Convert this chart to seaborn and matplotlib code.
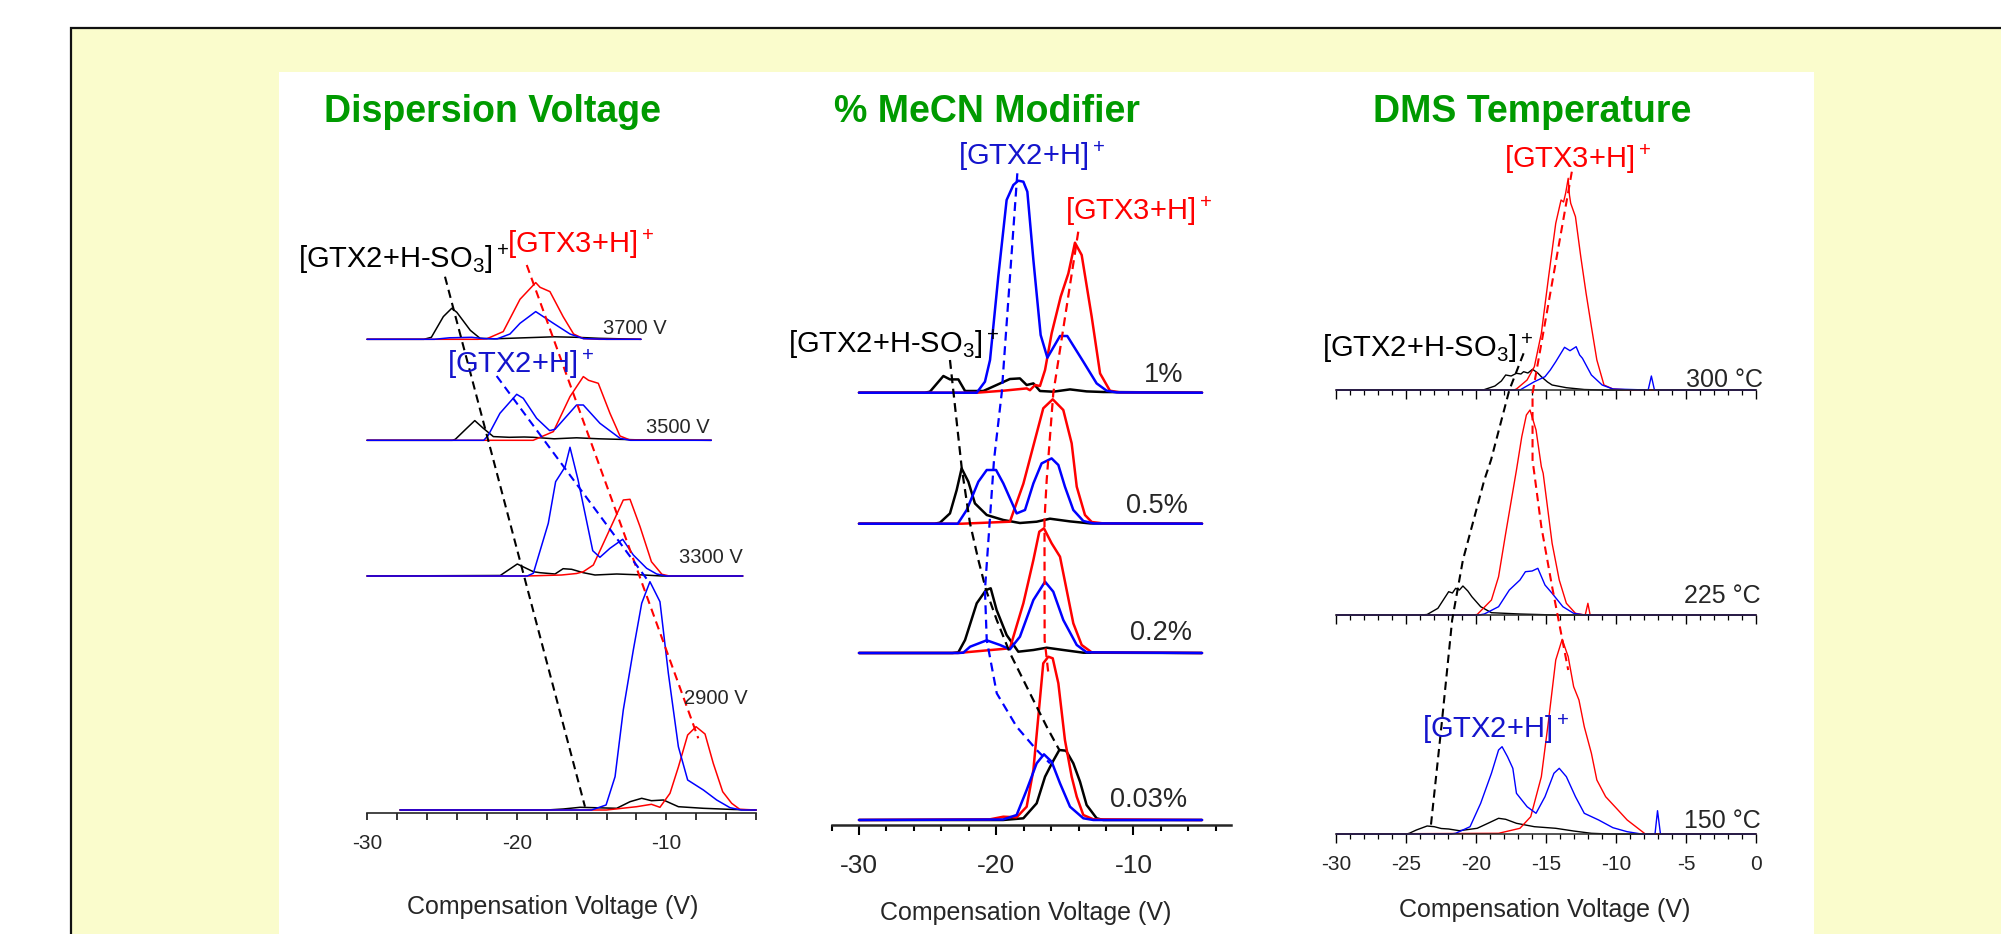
import matplotlib
matplotlib.use("Agg")
import matplotlib.pyplot as plt
from matplotlib.patches import Rectangle
import pandas as pd
import seaborn as sns

# ------------------------------------------------------------------ data
# intensities are arbitrary units; (CV [V], intensity)

# ---- Panel 1 : Dispersion Voltage
DV_CONDITIONS = ["3700 V", "3500 V", "3300 V", "2900 V"]
DV_OFFSETS = [473.4, 372.4, 236.7, 2.7]

DV3700_SO3 = [(-30, 0), (-26.2, 0), (-25.7, 2), (-24.9, 22.7), (-24.34, 31), (-24.0, 27),
              (-23.1, 9), (-22.45, 1), (-21.5, 0.5), (-19.5, 1.5), (-17.5, 2.5), (-16, 2),
              (-14.5, 1), (-11.7, 0)]
DV3700_GTX3 = [(-30, 0), (-22.6, 0), (-22.0, 0.5), (-20.9, 7.7), (-19.78, 40), (-18.73, 56.7),
               (-18.44, 52), (-17.78, 47.7), (-16.9, 22.7), (-16.2, 5.3), (-15.55, 0.7),
               (-14.5, 0), (-11.7, 0)]
DV3700_GTX2 = [(-30, 0), (-25.5, 0), (-24.5, 1.5), (-23, 2), (-22.2, 0.7), (-21.3, 0.5),
               (-20.45, 5.3), (-19.78, 16), (-18.73, 27.7), (-17.55, 16), (-16.44, 5.3),
               (-15.55, 0.7), (-14, 0), (-11.7, 0)]

DV3500_SO3 = [(-30, 0), (-24.3, 0), (-24.1, 1), (-23.34, 12), (-22.8, 19.7), (-22.23, 12),
              (-21.56, 3.7), (-20.5, 3), (-19.5, 3.3), (-18.9, 3), (-17.5, 1.5), (-16, 2.5),
              (-14.5, 1.5), (-12, 0.5), (-7, 0)]
DV3500_GTX3 = [(-30, 0), (-18.9, 0), (-17.55, 8.7), (-16.44, 43.7), (-15.55, 63.7), (-15.2, 60),
               (-14.55, 57), (-13.77, 27), (-13.1, 4.3), (-12.43, 0.3), (-7, 0)]
DV3500_GTX2 = [(-30, 0), (-22.2, 0), (-21.9, 5), (-21.12, 27), (-20.0, 46), (-19.56, 42),
               (-18.67, 22), (-17.8, 9.7), (-17.44, 11), (-16.0, 35.3), (-15.55, 35.3),
               (-14.44, 17), (-13.1, 2), (-12.4, 0), (-7, 0)]

DV3300_SO3 = [(-30, 0), (-21.1, 0.5), (-19.96, 12), (-18.89, 4.3), (-18.44, 3.3), (-17.44, 2),
              (-16.9, 7.3), (-16.33, 6.7), (-15.55, 3.3), (-14.77, 1), (-13.32, 2), (-11.5, 1),
              (-10.3, 0), (-4.9, 0)]
DV3300_GTX3 = [(-30, 0), (-19.33, 0), (-17, 1), (-16, 2.5), (-15.55, 4.3), (-14.88, 11),
               (-14.21, 32.7), (-12.88, 76), (-12.43, 76.7), (-11.76, 49.3), (-11.0, 14.3),
               (-10.3, 1.7), (-9.8, 0), (-4.9, 0)]
DV3300_GTX2 = [(-30, 0), (-19.3, 0), (-18.89, 2.7), (-17.89, 52.7), (-17.4, 94.3), (-16.77, 109),
               (-16.44, 128.7), (-15.9, 96), (-14.92, 25.3), (-14.44, 18.7), (-13.77, 27.7),
               (-12.92, 36.7), (-12.21, 21), (-11.32, 7.7), (-10.65, 2), (-10, 0), (-4.9, 0)]

DV2900_SO3 = [(-27.8, 0), (-18, 0), (-16.89, 1), (-15.77, 2.7), (-13.32, 1.7), (-12.43, 8.3),
              (-11.65, 11.7), (-11.0, 9.3), (-10.2, 10), (-9.2, 3.3), (-7.53, 1.7), (-5.5, 0.5),
              (-4.0, 0)]
DV2900_GTX3 = [(-27.8, 0), (-14, 0), (-11.99, 3.3), (-11.0, 5.7), (-10.43, 2.7), (-9.76, 16.7),
               (-9.2, 43), (-8.58, 75), (-8.02, 83.3), (-7.42, 76), (-6.87, 46.7), (-6.24, 18.3),
               (-5.64, 6.7), (-5.1, 0.7), (-4.0, 0)]
DV2900_GTX2 = [(-27.8, 0), (-15, 0), (-14.03, 5), (-13.43, 33.3), (-12.88, 100), (-12.21, 160),
               (-11.65, 206.7), (-11.1, 228.3), (-10.43, 208.3), (-9.87, 136.7), (-9.2, 63.3),
               (-8.58, 30), (-7.53, 20), (-6.64, 10), (-5.75, 2.3), (-5.0, 0), (-4.0, 0)]

DV_GUIDE_SO3 = [(-24.79, 536.0), (-15.44, 6.0)]
DV_GUIDE_GTX3 = [(-19.33, 547.7), (-7.87, 74.4)]
DV_GUIDE_GTX2 = [(-21.34, 436.7), (-11.1, 229.4)]
DV_TICKS = [-30, -20, -10]
DV_TICK_LABELS = ["-30", "-20", "-10"]

# ---- Panel 2 : % MeCN Modifier
MC_CONDITIONS = ["1%", "0.5%", "0.2%", "0.03%"]
MC_OFFSETS = [432.3, 301.3, 172.0, 5.0]

MC1_SO3 = [(-30, 0), (-25.2, 0), (-24.83, 1), (-23.85, 16.7), (-23.37, 13.3), (-22.76, 13.3),
           (-22.27, 1.7), (-20.94, 1.7), (-19.97, 7.7), (-19.0, 13.7), (-18.27, 14.3),
           (-17.78, 7.7), (-17.29, 9.3), (-16.81, 1.7), (-15.84, 1), (-14.62, 3.3),
           (-13.41, 1.3), (-12.2, 0.7), (-5, 0)]
MC1_GTX3 = [(-30, 0), (-21.42, 0), (-19.48, 2), (-17.78, 4.3), (-17.54, 2.5), (-17.17, 7.7),
            (-16.81, 6.7), (-16.44, 22.7), (-15.96, 59.3), (-15.3, 96), (-14.74, 119.3),
            (-14.26, 150), (-13.77, 137.7), (-13.04, 76), (-12.43, 19.3), (-11.71, 2),
            (-10.98, 0.3), (-5, 0)]
MC1_GTX2 = [(-30, 0), (-21.42, 0), (-20.82, 11), (-20.45, 32.7), (-19.85, 116), (-19.24, 192.7),
            (-18.75, 207.7), (-18.39, 212), (-18.02, 211), (-17.73, 201), (-17.29, 132.7),
            (-16.76, 57.7), (-16.27, 35), (-15.35, 56.7), (-14.82, 56.7), (-13.65, 31),
            (-12.68, 9.3), (-11.95, 2), (-11.22, 0.3), (-5, 0)]

MC05_SO3 = [(-30, 0), (-24.5, 0), (-24.1, 1), (-23.37, 10.3), (-22.88, 33.7), (-22.52, 55.3),
            (-22.03, 42), (-21.55, 20.3), (-20.69, 8.7), (-19.48, 3.7), (-18.27, 0.7),
            (-17.05, 2), (-16.08, 5), (-14.62, 2.3), (-13.16, 0.3), (-5, 0)]
MC05_GTX3 = [(-30, 0), (-22.5, 0), (-19.0, 2), (-18.02, 40), (-17.05, 90.4), (-16.57, 115.4),
             (-15.88, 124.4), (-15.11, 113.7), (-14.5, 80.4), (-14.13, 37), (-13.53, 8.7),
             (-13.04, 1.7), (-12.2, 0.3), (-5, 0)]
MC05_GTX2 = [(-30, 0), (-22.8, 0), (-22.15, 13.7), (-21.3, 42), (-20.69, 53.7), (-20.01, 53.7),
             (-19.48, 40.3), (-18.51, 10.3), (-17.9, 13.7), (-17.29, 40.3), (-16.69, 60.3),
             (-15.96, 65.3), (-15.47, 58.7), (-14.99, 37), (-14.38, 13.7), (-13.65, 2.7),
             (-12.92, 0.3), (-5, 0)]

MC02_SO3 = [(-30, 0), (-23.2, 0), (-22.76, 0.7), (-22.27, 13), (-21.42, 49.7), (-20.74, 63),
            (-20.4, 64.7), (-19.97, 43), (-19.24, 18), (-18.39, 1.3), (-17.29, 3), (-16.32, 5.3),
            (-15.11, 3), (-13.65, 0.3), (-5, 0)]
MC02_GTX3 = [(-30, 0), (-22.8, 0), (-19.0, 4.7), (-18.02, 49.7), (-17.29, 93), (-16.86, 121.3),
             (-16.52, 124.7), (-15.96, 109.7), (-15.35, 96.3), (-14.38, 29.7), (-13.77, 8),
             (-13.04, 0.7), (-5, 0)]
MC02_GTX2 = [(-30, 0), (-22.8, 0), (-22.4, 0.3), (-21.9, 6.3), (-20.69, 12.7), (-19.72, 8),
             (-19.0, 3.7), (-18.27, 16.3), (-17.29, 53), (-16.44, 71.3), (-15.84, 61.3),
             (-15.11, 33), (-14.13, 8), (-13.41, 0.7), (-5, 0)]

MC003_SO3 = [(-30, 0), (-19.5, 0), (-18.02, 1.7), (-17.05, 16.7), (-16.44, 43.3), (-15.88, 58.3),
             (-15.4, 70), (-14.91, 69.3), (-14.38, 56.7), (-13.89, 38.3), (-13.41, 15),
             (-12.68, 1.7), (-12.2, 0), (-5, 0)]
MC003_GTX3 = [(-30, 0), (-20.45, 0.7), (-19.48, 3.3), (-18.51, 2.7), (-17.78, 13.3), (-17.29, 50),
              (-16.93, 103.3), (-16.57, 156.7), (-16.2, 163.3), (-15.88, 161.7), (-15.47, 136.7),
              (-14.99, 80), (-14.5, 43.3), (-14.13, 23.3), (-13.65, 5), (-12.92, 0.7), (-5, 0)]
MC003_GTX2 = [(-30, 0), (-19.5, 0.5), (-18.51, 5), (-17.78, 30), (-17.05, 56.7), (-16.52, 65.7),
              (-15.96, 58.3), (-15.35, 36.7), (-14.62, 13.3), (-13.65, 1.7), (-12.92, 0), (-5, 0)]

MC_GUIDE_SO3 = [(-23.37, 465), (-22.51, 356.7), (-21.91, 301.7), (-21.3, 265), (-20.74, 235),
                (-19.96, 205), (-18.99, 171.7), (-17.54, 131.7), (-16.32, 98.3), (-15.4, 75)]
MC_GUIDE_GTX3 = [(-14.02, 593.3), (-15.84, 431.7), (-16.32, 345), (-16.48, 305), (-16.47, 185),
                 (-16.2, 151.7)]
MC_GUIDE_GTX2 = [(-18.46, 651.7), (-19.6, 431.7), (-20.16, 365), (-20.82, 235), (-20.69, 185),
                 (-19.96, 131.7), (-18.51, 98.3), (-17.05, 75), (-16.08, 61.7)]
MC_TICKS = [-30, -20, -10]
MC_TICK_LABELS = ["-30", "-20", "-10"]

# ---- Panel 3 : DMS Temperature
TP_CONDITIONS = ["300 °C", "225 °C", "150 °C"]
TP_OFFSETS = [444.0, 219.0, 0.0]

TP300_SO3 = [(-30, 0), (-19.5, 0), (-18.66, 4), (-18.2, 9), (-17.89, 15), (-17.5, 14),
             (-17.12, 16.7), (-16.8, 16), (-16.61, 18.3), (-16.3, 17), (-15.97, 20.7), (-15.6, 17),
             (-15.34, 13.3), (-14.9, 8), (-14.57, 5), (-13.55, 2.3), (-12.27, 0.5), (-11, 0), (0, 0)]
TP300_GTX3 = [(-30, 0), (-17.3, 0), (-17.12, 1), (-16.36, 10), (-15.84, 23.3), (-15.34, 56.7),
              (-14.82, 113.3), (-14.31, 166.7), (-13.93, 190), (-13.75, 188), (-13.6, 197),
              (-13.5, 205), (-13.42, 211.7), (-13.33, 195), (-13.24, 186.7), (-12.9, 173.3),
              (-12.52, 133.3), (-12.14, 96.7), (-11.76, 63.3), (-11.37, 30), (-10.86, 5),
              (-10.22, 1), (-9, 0), (0, 0)]
TP300_GTX2 = [(-30, 0), (-16.87, 0), (-15.84, 8.3), (-15.08, 13.3), (-14.7, 20), (-14.31, 28.3),
              (-13.68, 42.7), (-13.29, 39.3), (-12.85, 43.3), (-12.6, 35), (-12.4, 31.7),
              (-11.76, 15), (-10.99, 5), (-10.22, 1), (-7.7, 0), (-7.47, 14), (-7.25, 0), (0, 0)]

TP225_SO3 = [(-30, 0), (-24, 0), (-23.51, 0.5), (-22.74, 6.7), (-21.97, 23.3), (-21.7, 22),
             (-21.47, 26.7), (-21.2, 25), (-20.95, 29), (-20.6, 24), (-20.31, 18.3), (-19.68, 8.3),
             (-18.91, 2.3), (-16.87, 1), (-14.31, 0), (0, 0)]
TP225_GTX3 = [(-30, 0), (-20.3, 0), (-19.93, 0.5), (-18.91, 15), (-18.4, 38.3), (-17.89, 81.7),
              (-17.12, 145), (-16.74, 178.3), (-16.41, 200), (-16.15, 205), (-15.72, 185),
              (-15.34, 148.3), (-15.21, 141.7), (-14.57, 71.7), (-14.06, 35), (-13.55, 11.7),
              (-12.9, 1.7), (-12.2, 0), (-12.01, 11.7), (-11.85, 0), (0, 0)]
TP225_GTX2 = [(-30, 0), (-19.8, 0), (-19.42, 1), (-18.4, 8.3), (-17.63, 25), (-16.87, 35),
              (-16.48, 43.3), (-16.0, 44), (-15.59, 46.7), (-15.08, 30), (-14.57, 21.7),
              (-13.8, 8.3), (-13.03, 1.7), (-12.27, 0), (0, 0)]

TP150_SO3 = [(-30, 0), (-25, 0), (-24.79, 0.7), (-24.28, 4), (-23.51, 8), (-23.0, 7.3),
             (-22.5, 5.5), (-21.97, 5), (-21.21, 3.3), (-19.93, 5.7), (-19.16, 10.7), (-18.4, 15.7),
             (-17.89, 14.7), (-17.12, 10.7), (-15.84, 7.3), (-14.31, 5.7), (-13.03, 3),
             (-11.76, 0.7), (-10.48, 0), (0, 0)]
TP150_GTX3 = [(-30, 0), (-18.4, 0.7), (-16.87, 5.7), (-16.1, 17.3), (-15.34, 57.3), (-14.82, 114),
              (-14.31, 174), (-13.85, 194.7), (-13.42, 177.3), (-13.03, 147.3), (-12.65, 134),
              (-12.27, 107.3), (-11.76, 80.7), (-11.37, 54), (-10.74, 37.3), (-9.97, 25.7),
              (-9.2, 14), (-8.43, 5.7), (-7.93, 0.3), (0, 0)]
TP150_GTX2 = [(-30, 0), (-21.8, 0), (-21.47, 0.7), (-20.44, 7.3), (-19.68, 30.7), (-18.91, 60.7),
              (-18.4, 84), (-18.15, 87.3), (-17.76, 77.3), (-17.38, 65.7), (-17.12, 40.7),
              (-16.36, 27.3), (-15.72, 20.7), (-15.08, 37.3), (-14.44, 60.7), (-14.06, 65.7),
              (-13.55, 57.3), (-12.9, 37.3), (-12.27, 20.7), (-11.24, 14), (-10.22, 6.3),
              (-9.2, 2.3), (-8.18, 0), (-7.21, 0), (-7.03, 23.3), (-6.82, 0), (0, 0)]

TP_GUIDE_SO3 = [(-16.61, 480.7), (-17.63, 444), (-18.94, 374), (-19.42, 354), (-20.95, 274),
                (-21.72, 214), (-22.49, 107.3), (-23.25, 7.3)]
TP_GUIDE_GTX3 = [(-13.16, 662.3), (-15.97, 440.7), (-15.97, 374), (-15.34, 307.3),
                 (-14.57, 247.3), (-13.42, 164)]
TP_TICKS = [-30, -25, -20, -15, -10, -5, 0]
TP_TICK_LABELS = ["-30", "-25", "-20", "-15", "-10", "-5", "0"]

ION_ORDER = ["SO3", "GTX3", "GTX2"]
ION_COLORS = {"SO3": "#000000", "GTX3": "#FF0000", "GTX2": "#0000FF"}
TEXT_COLORS = {"SO3": "#000000", "GTX3": "#FF0000", "GTX2": "#1414CC"}
ION_LABELS = {"SO3": "[GTX2+H-SO$_3]^+$", "GTX3": "[GTX3+H$]^+$", "GTX2": "[GTX2+H$]^+$"}
TITLE_COLOR = "#009A00"

# ------------------------------------------------------------------ style
sns.set_style("white")
plt.rcParams["font.family"] = ["Liberation Sans", "DejaVu Sans"]
plt.rcParams["mathtext.fontset"] = "custom"
plt.rcParams["mathtext.rm"] = "Liberation Sans"
plt.rcParams["mathtext.default"] = "regular"

W, H = 2001, 934
fig = plt.figure(figsize=(W / 100, H / 100), dpi=100, facecolor="white")


def fx(x):
    return x / W


def fy(y):
    return 1 - y / H


# backgrounds
fig.add_artist(Rectangle((fx(71), fy(950)), fx(2010) - fx(71), fy(28) - fy(950),
                         transform=fig.transFigure, facecolor="#FAFCCC",
                         edgecolor="#111111", linewidth=1.6, zorder=-20))
fig.add_artist(Rectangle((fx(279), fy(950)), fx(1814) - fx(279), fy(72) - fy(950),
                         transform=fig.transFigure, facecolor="white",
                         edgecolor="none", zorder=-19))


def make_axes(rect_px, px0, cv0, px_per_cv, base_px):
    l, t, r, b = rect_px
    ax = fig.add_axes([fx(l), fy(b), fx(r) - fx(l), fy(t) - fy(b)])
    ax.set_xlim(cv0 + (l - px0) / px_per_cv, cv0 + (r - px0) / px_per_cv)
    ax.set_ylim(base_px - b, base_px - t)
    ax.patch.set_visible(False)
    for s in ["left", "right", "top"]:
        ax.spines[s].set_visible(False)
    ax.tick_params(axis="y", left=False, labelleft=False)
    ax.grid(False)
    return ax


def traces_frame(conditions, offsets, series):
    rows = []
    for cond, off, per_ion in zip(conditions, offsets, series):
        for ion, pts in zip(ION_ORDER, per_ion):
            for cv, val in pts:
                rows.append({"cond": cond, "ion": ion, "cv": cv, "y": val + off})
    return pd.DataFrame(rows)


def draw_traces(ax, df, lw):
    sns.lineplot(data=df, x="cv", y="y", hue="ion", units="cond", estimator=None,
                 sort=False, hue_order=ION_ORDER, palette=ION_COLORS, legend=False,
                 linewidth=lw, ax=ax)
    ax.set_xlabel("")
    ax.set_ylabel("")


def draw_guide(ax, pts, ion, lw=1.5):
    ax.plot([p[0] for p in pts], [p[1] for p in pts], color=ION_COLORS[ion], lw=lw,
            linestyle=(0, (4, 2.5)), zorder=6)


def text_px(x, y, s, **kw):
    fig.text(fx(x), fy(y), s, **kw)


def title(x, s):
    text_px(x, 121.5, s, ha="center", va="baseline", fontsize=27, fontweight="bold",
            color=TITLE_COLOR)


# ------------------------------------------------------------------ panel 1
ax1 = make_axes((290, 150, 800, 860), 367.0, -30.0, 14.97, 812.7)
df1 = traces_frame(DV_CONDITIONS, DV_OFFSETS, [
    (DV3700_SO3, DV3700_GTX3, DV3700_GTX2),
    (DV3500_SO3, DV3500_GTX3, DV3500_GTX2),
    (DV3300_SO3, DV3300_GTX3, DV3300_GTX2),
    (DV2900_SO3, DV2900_GTX3, DV2900_GTX2)])
draw_traces(ax1, df1, 1.1)
draw_guide(ax1, DV_GUIDE_SO3, "SO3")
draw_guide(ax1, DV_GUIDE_GTX3, "GTX3")
draw_guide(ax1, DV_GUIDE_GTX2, "GTX2")
ax1.spines["bottom"].set_position(("data", 0))
ax1.spines["bottom"].set_bounds(-30, -4)
ax1.spines["bottom"].set_linewidth(1.2)
ax1.set_xticks(DV_TICKS, labels=DV_TICK_LABELS)
ax1.set_xticks([v for v in range(-30, -3, 2)], minor=True)
ax1.tick_params(axis="x", which="both", direction="out", bottom=True, length=5, width=1.1,
                color="black")
ax1.tick_params(axis="x", which="major", labelsize=15, pad=10.5)

title(492.5, "Dispersion Voltage")
text_px(298, 268, ION_LABELS["SO3"], fontsize=21, color=TEXT_COLORS["SO3"], va="baseline")
text_px(506.7, 253, ION_LABELS["GTX3"], fontsize=21, color=TEXT_COLORS["GTX3"], va="baseline")
text_px(446.7, 373, ION_LABELS["GTX2"], fontsize=21, color=TEXT_COLORS["GTX2"], va="baseline")
for (xr, yb), lab in zip([(666.7, 334), (710, 432.7), (742.7, 563.3), (747.3, 704)], DV_CONDITIONS):
    text_px(xr, yb, lab, fontsize=14.5, ha="right", va="baseline")
text_px(552.5, 914, "Compensation Voltage (V)", fontsize=18, ha="center", va="baseline")

# ------------------------------------------------------------------ panel 2
ax2 = make_axes((805, 150, 1260, 870), 859.0, -30.0, 13.72, 825.0)
df2 = traces_frame(MC_CONDITIONS, MC_OFFSETS, [
    (MC1_SO3, MC1_GTX3, MC1_GTX2),
    (MC05_SO3, MC05_GTX3, MC05_GTX2),
    (MC02_SO3, MC02_GTX3, MC02_GTX2),
    (MC003_SO3, MC003_GTX3, MC003_GTX2)])
draw_traces(ax2, df2, 1.8)
draw_guide(ax2, MC_GUIDE_SO3, "SO3", 1.6)
draw_guide(ax2, MC_GUIDE_GTX3, "GTX3", 1.6)
draw_guide(ax2, MC_GUIDE_GTX2, "GTX2", 1.6)
ax2.spines["bottom"].set_position(("data", 0))
ax2.spines["bottom"].set_bounds(-31.95, -2.9)
ax2.spines["bottom"].set_linewidth(1.8)
ax2.set_xticks(MC_TICKS, labels=MC_TICK_LABELS)
ax2.set_xticks([v for v in range(-32, -3, 2) if v not in MC_TICKS], minor=True)
ax2.tick_params(axis="x", which="major", direction="out", bottom=True, length=7.2, width=1.5,
                labelsize=19, pad=13.5, color="black")
ax2.tick_params(axis="x", which="minor", direction="out", bottom=True, length=4.3, width=1.5,
                color="black")

title(987, "% MeCN Modifier")
text_px(958, 165, ION_LABELS["GTX2"], fontsize=21, color=TEXT_COLORS["GTX2"], va="baseline")
text_px(1065, 220, ION_LABELS["GTX3"], fontsize=21, color=TEXT_COLORS["GTX3"], va="baseline")
text_px(788, 353.3, ION_LABELS["SO3"], fontsize=21, color=TEXT_COLORS["SO3"], va="baseline")
for (xr, yb), lab in zip([(1183.3, 381.7), (1188.3, 512.7), (1191.7, 640), (1186.7, 806.7)],
                         MC_CONDITIONS):
    text_px(xr, yb, lab, fontsize=19.5, ha="right", va="baseline")
text_px(1025.8, 920, "Compensation Voltage (V)", fontsize=18, ha="center", va="baseline")

# ------------------------------------------------------------------ panel 3
tp_series = [(TP300_SO3, TP300_GTX3, TP300_GTX2),
             (TP225_SO3, TP225_GTX3, TP225_GTX2),
             (TP150_SO3, TP150_GTX3, TP150_GTX2)]
axes3 = []
for i, (cond, off, ser) in enumerate(zip(TP_CONDITIONS, TP_OFFSETS, tp_series)):
    ax = make_axes((1300, 150, 1790, 880), 1336.4, -30.0, 13.98, 834.0)
    df = traces_frame([cond], [off], [ser])
    draw_traces(ax, df, 1.0)
    ax.spines["bottom"].set_position(("data", off))
    ax.spines["bottom"].set_bounds(-30, 0)
    ax.spines["bottom"].set_linewidth(1.1)
    ax.set_xticks(TP_TICKS, labels=TP_TICK_LABELS if i == 2 else [""] * len(TP_TICKS))
    ax.set_xticks([v for v in range(-30, 1) if v not in TP_TICKS], minor=True)
    ax.tick_params(axis="x", which="major", direction="out", bottom=True, length=6.2,
                   width=1.0, labelsize=15, pad=9.2, color="black")
    ax.tick_params(axis="x", which="minor", direction="out", bottom=True, length=3.8,
                   width=0.9, color="black")
    axes3.append(ax)
draw_guide(axes3[-1], TP_GUIDE_SO3, "SO3")
draw_guide(axes3[-1], TP_GUIDE_GTX3, "GTX3")

title(1532.5, "DMS Temperature")
text_px(1504, 168.3, ION_LABELS["GTX3"], fontsize=21, color=TEXT_COLORS["GTX3"], va="baseline")
text_px(1321.8, 356.7, ION_LABELS["SO3"], fontsize=21, color=TEXT_COLORS["SO3"], va="baseline")
text_px(1421.8, 738.3, ION_LABELS["GTX2"], fontsize=21, color=TEXT_COLORS["GTX2"], va="baseline")
for (xr, yb), lab in zip([(1763.3, 387), (1761, 602.7), (1761, 827.7)], TP_CONDITIONS):
    text_px(xr, yb, lab, fontsize=18, ha="right", va="baseline")
text_px(1545, 916.7, "Compensation Voltage (V)", fontsize=18, ha="center", va="baseline")

fig.savefig("out.png", dpi=100, facecolor="white")
